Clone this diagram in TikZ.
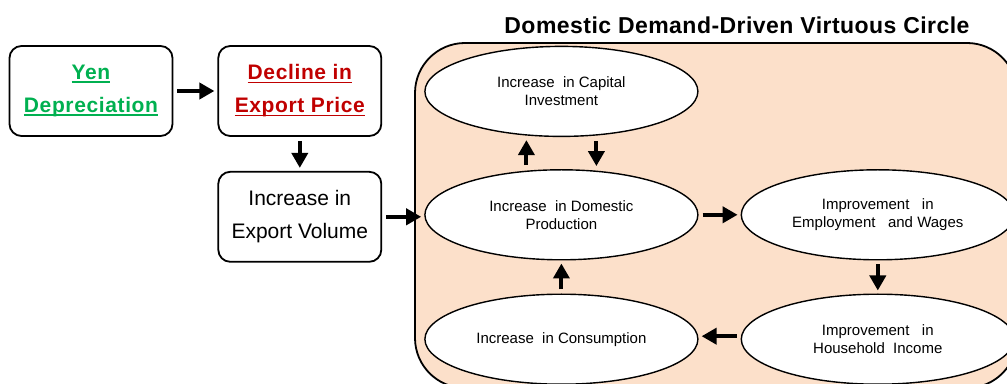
\documentclass[tikz,border=0pt]{standalone}
\usepackage{fontspec}
\setmainfont{Liberation Sans}
\usetikzlibrary{arrows.meta, positioning, shapes.geometric}
\definecolor{yengreen}{RGB}{0,176,80}
\definecolor{pricered}{RGB}{192,0,0}
\definecolor{peach}{RGB}{252,224,202}
\newsavebox{\keytextbox}
\newcommand{\keyline}[1]{\sbox{\keytextbox}{#1}\makebox[0pt][l]{\rule[-3.5pt]{\wd\keytextbox}{1.6pt}}\usebox{\keytextbox}}

\begin{document}
\begin{tikzpicture}[
        x=1pt, y=1pt,
        node distance=34pt and 42pt,
        box/.style={rectangle, draw, line width=1.8pt, rounded corners=12pt, minimum width=163pt, minimum height=90pt, inner sep=0pt, align=center, font=\fontsize{21}{33}\selectfont},
        keybox/.style={box, font=\fontsize{21}{33}\selectfont\bfseries\addfontfeature{LetterSpace=3}},
        bubble/.style={ellipse, draw, line width=1.4pt, fill=white, minimum width=273pt, minimum height=90pt, inner sep=0pt, align=center, font=\fontsize{15}{18}\selectfont},
        arrow/.style={draw, line width=4pt, -{Triangle[length=15pt, width=16pt]}, shorten <=4pt, shorten >=3pt},
        heading/.style={font=\fontsize{23}{27}\selectfont\bfseries\addfontfeature{LetterSpace=2}}
    ]
        \useasboundingbox (0,0) rectangle (1007,383);
        \clip (0,0) rectangle (1007,383);

        % the domestic circle frame
        \draw [line width=1.8pt, fill=peach, rounded corners=50pt] (415,340) rectangle (1017,-5);
        \node [heading] (circletitle) at (737,358) {Domestic Demand-Driven Virtuous Circle};

        \node [keybox, text=yengreen] (yen) at (91,292) {\keyline{Yen}\\\keyline{Depreciation}};
        \node [keybox, text=pricered, right=44pt of yen] (decline) {\keyline{Decline in}\\\keyline{Export Price}};
        \node [box, below=of decline] (volume) {Increase in\\Export Volume};

        \node [bubble, right=of volume, yshift=2pt] (production) {Increase\ \ in Domestic\\Production};
        \node [bubble, above=32pt of production] (capital) {Increase\ \ in Capital\\Investment};
        \node [bubble, right=of production] (employment) {Improvement\ \ \ in\\Employment\ \ \ and Wages};
        \node [bubble, below=33pt of employment] (income) {Improvement\ \ \ in\\Household\ \ Income};
        \node [bubble, left=of income] (consumption) {Increase\ \ in Consumption};

        \path [arrow] (yen) -- (decline);
        \path [arrow] (decline) -- (volume);
        \path [arrow] (volume) -- (volume -| production.west);
        \path [arrow] ([xshift=-35pt]production.north) -- ([xshift=-35pt]capital.south);
        \path [arrow] ([xshift=35pt]capital.south) -- ([xshift=35pt]production.north);
        \path [arrow] (production) -- (employment);
        \path [arrow] (employment) -- (income);
        \path [arrow] ([yshift=3pt]income.west) -- ([yshift=3pt]consumption.east);
        \path [arrow] (consumption) -- (production);
    \end{tikzpicture}
\end{document}
